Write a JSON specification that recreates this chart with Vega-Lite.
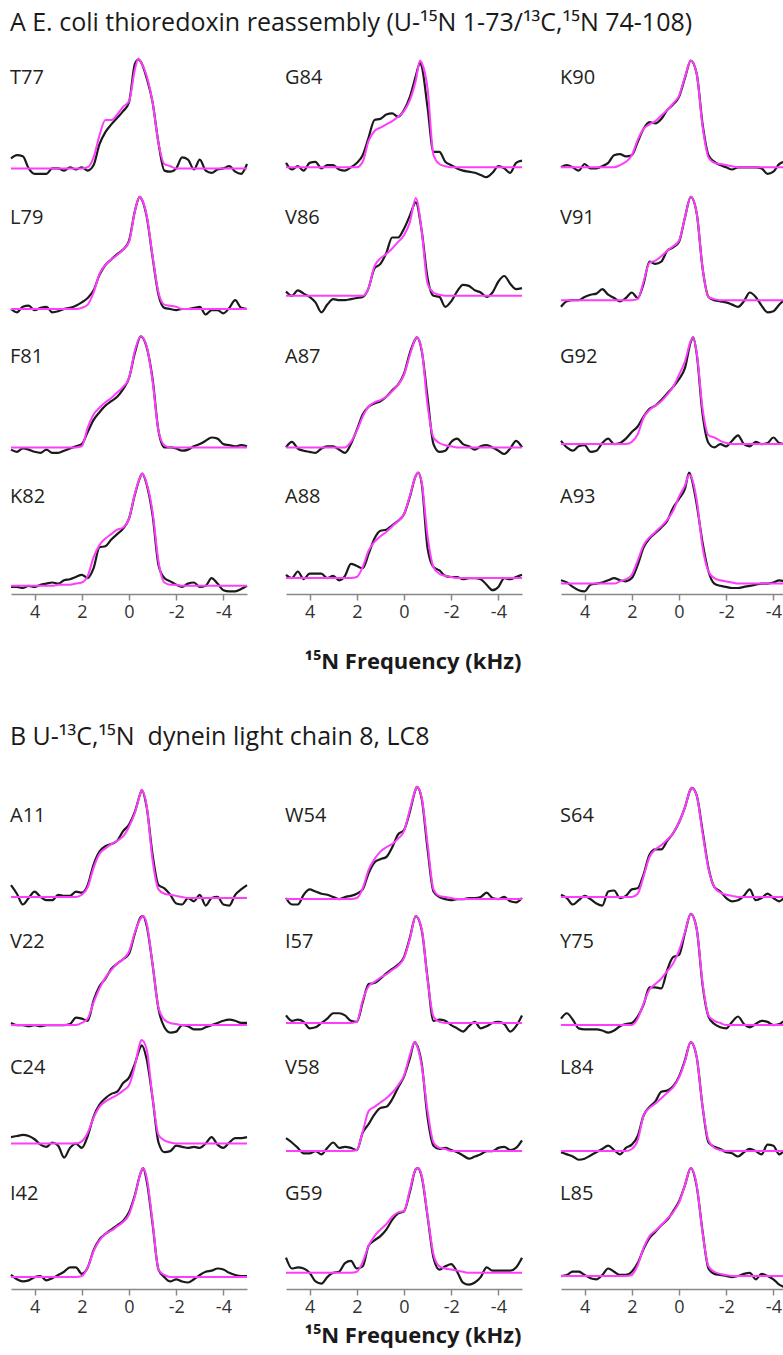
{
"$schema":"https://vega.github.io/schema/vega-lite/v6.json",
"background":"white",
"padding":{"left":9,"top":11,"right":0,"bottom":10},
"spacing":51,
"config":{"view":{"stroke":null},"font":"Open Sans",
"header":{"labels":false,"title":null,"labelFontSize":1,"labelPadding":0,"labelColor":"transparent"},
"headerFacet":{"labels":false,"title":null,"labelFontSize":1,"labelPadding":0,"labelColor":"transparent"},
"axis":{"grid":false,"title":null,"domainColor":"#888888","domainWidth":1.5,"tickColor":"#888888","tickWidth":1.5,"tickSize":6,"labelFontSize":18,"labelColor":"#333333","labelPadding":3,"labelFont":"Open Sans","labelOverlap":false}},
"datasets":{
"A":[
{"p":"T77","x":5,"e":9,"f":0},{"p":"T77","x":4.75,"e":12,"f":0},{"p":"T77","x":4.5,"e":11,"f":0},{"p":"T77","x":4.25,"e":0,"f":0},{"p":"T77","x":4,"e":-5,"f":0},{"p":"T77","x":3.75,"e":-5,"f":0},{"p":"T77","x":3.5,"e":-5,"f":0},{"p":"T77","x":3.25,"e":0,"f":0},{"p":"T77","x":3,"e":0,"f":0},{"p":"T77","x":2.75,"e":-2,"f":0},{"p":"T77","x":2.5,"e":1,"f":0},{"p":"T77","x":2.25,"e":-1,"f":0},{"p":"T77","x":2,"e":1,"f":0},{"p":"T77","x":1.75,"e":-2,"f":1},{"p":"T77","x":1.5,"e":3,"f":10},{"p":"T77","x":1.25,"e":22,"f":30},{"p":"T77","x":1,"e":33,"f":44},{"p":"T77","x":0.75,"e":40,"f":44},{"p":"T77","x":0.5,"e":46,"f":49},{"p":"T77","x":0.25,"e":52,"f":56},{"p":"T77","x":0,"e":60,"f":61},{"p":"T77","x":-0.25,"e":95,"f":90},{"p":"T77","x":-0.4,"e":99,"f":100},{"p":"T77","x":-0.5,"e":97,"f":97},{"p":"T77","x":-0.75,"e":82,"f":84},{"p":"T77","x":-1,"e":60,"f":60},{"p":"T77","x":-1.25,"e":23,"f":23},{"p":"T77","x":-1.5,"e":-2,"f":4},{"p":"T77","x":-1.75,"e":-3,"f":2},{"p":"T77","x":-2,"e":0,"f":0},{"p":"T77","x":-2.25,"e":10,"f":0},{"p":"T77","x":-2.5,"e":8,"f":0},{"p":"T77","x":-2.75,"e":-1,"f":0},{"p":"T77","x":-3,"e":8,"f":0},{"p":"T77","x":-3.25,"e":-2,"f":0},{"p":"T77","x":-3.5,"e":-4,"f":0},{"p":"T77","x":-3.75,"e":-1,"f":0},{"p":"T77","x":-4,"e":0,"f":0},{"p":"T77","x":-4.25,"e":2,"f":0},{"p":"T77","x":-4.5,"e":-3,"f":0},{"p":"T77","x":-4.75,"e":-5,"f":0},{"p":"T77","x":-5,"e":4,"f":0},
{"p":"L79","x":5,"e":-1,"f":-1},{"p":"L79","x":4.75,"e":-4,"f":-1},{"p":"L79","x":4.5,"e":1,"f":-1},{"p":"L79","x":4.25,"e":2,"f":-1},{"p":"L79","x":4,"e":-2,"f":-1},{"p":"L79","x":3.75,"e":0,"f":-1},{"p":"L79","x":3.5,"e":1,"f":-1},{"p":"L79","x":3.25,"e":-4,"f":-1},{"p":"L79","x":3,"e":-3,"f":-1},{"p":"L79","x":2.75,"e":-1,"f":-1},{"p":"L79","x":2.5,"e":0,"f":-1},{"p":"L79","x":2.25,"e":2,"f":-1},{"p":"L79","x":2,"e":5,"f":0},{"p":"L79","x":1.75,"e":9,"f":3},{"p":"L79","x":1.5,"e":16,"f":14},{"p":"L79","x":1.25,"e":30,"f":31},{"p":"L79","x":1,"e":39,"f":39},{"p":"L79","x":0.75,"e":44,"f":44},{"p":"L79","x":0.5,"e":49,"f":48},{"p":"L79","x":0.25,"e":53,"f":53},{"p":"L79","x":0,"e":61,"f":60},{"p":"L79","x":-0.25,"e":88,"f":88},{"p":"L79","x":-0.45,"e":101,"f":101},{"p":"L79","x":-0.5,"e":100,"f":100},{"p":"L79","x":-0.75,"e":83,"f":84},{"p":"L79","x":-1,"e":46,"f":47},{"p":"L79","x":-1.25,"e":12,"f":14},{"p":"L79","x":-1.5,"e":0,"f":3},{"p":"L79","x":-1.75,"e":-1,"f":2},{"p":"L79","x":-2,"e":-2,"f":1},{"p":"L79","x":-2.25,"e":-1,"f":-1},{"p":"L79","x":-2.5,"e":-1,"f":-1},{"p":"L79","x":-2.75,"e":0,"f":-1},{"p":"L79","x":-3,"e":1,"f":-1},{"p":"L79","x":-3.25,"e":-6,"f":-1},{"p":"L79","x":-3.5,"e":-2,"f":-1},{"p":"L79","x":-3.75,"e":-2,"f":-1},{"p":"L79","x":-4,"e":-5,"f":-1},{"p":"L79","x":-4.25,"e":0,"f":-1},{"p":"L79","x":-4.5,"e":7,"f":-1},{"p":"L79","x":-4.75,"e":0,"f":-1},{"p":"L79","x":-5,"e":-1,"f":-1},
{"p":"F81","x":5,"e":-2,"f":0},{"p":"F81","x":4.75,"e":-4,"f":0},{"p":"F81","x":4.5,"e":-1,"f":0},{"p":"F81","x":4.25,"e":-2,"f":0},{"p":"F81","x":4,"e":-4,"f":0},{"p":"F81","x":3.75,"e":-5,"f":0},{"p":"F81","x":3.5,"e":-2,"f":0},{"p":"F81","x":3.25,"e":-5,"f":0},{"p":"F81","x":3,"e":-5,"f":0},{"p":"F81","x":2.75,"e":-3,"f":0},{"p":"F81","x":2.5,"e":-1,"f":0},{"p":"F81","x":2.25,"e":1,"f":0},{"p":"F81","x":2,"e":3,"f":1},{"p":"F81","x":1.75,"e":14,"f":18},{"p":"F81","x":1.5,"e":25,"f":30},{"p":"F81","x":1.25,"e":32,"f":36},{"p":"F81","x":1,"e":38,"f":41},{"p":"F81","x":0.75,"e":42,"f":45},{"p":"F81","x":0.5,"e":46,"f":50},{"p":"F81","x":0.25,"e":53,"f":55},{"p":"F81","x":0,"e":63,"f":63},{"p":"F81","x":-0.25,"e":86,"f":88},{"p":"F81","x":-0.5,"e":101,"f":101},{"p":"F81","x":-0.75,"e":91,"f":92},{"p":"F81","x":-1,"e":62,"f":60},{"p":"F81","x":-1.25,"e":15,"f":15},{"p":"F81","x":-1.5,"e":0,"f":2},{"p":"F81","x":-1.75,"e":0,"f":0},{"p":"F81","x":-2,"e":-1,"f":0},{"p":"F81","x":-2.25,"e":-3,"f":0},{"p":"F81","x":-2.5,"e":-2,"f":0},{"p":"F81","x":-2.75,"e":1,"f":0},{"p":"F81","x":-3,"e":3,"f":0},{"p":"F81","x":-3.25,"e":6,"f":0},{"p":"F81","x":-3.5,"e":9,"f":0},{"p":"F81","x":-3.75,"e":8,"f":0},{"p":"F81","x":-4,"e":3,"f":0},{"p":"F81","x":-4.25,"e":2,"f":0},{"p":"F81","x":-4.5,"e":1,"f":0},{"p":"F81","x":-4.75,"e":2,"f":0},{"p":"F81","x":-5,"e":1,"f":0},
{"p":"K82","x":5,"e":0,"f":1},{"p":"K82","x":4.75,"e":0,"f":1},{"p":"K82","x":4.5,"e":-1,"f":1},{"p":"K82","x":4.25,"e":1,"f":1},{"p":"K82","x":4,"e":0,"f":1},{"p":"K82","x":3.75,"e":2,"f":1},{"p":"K82","x":3.5,"e":3,"f":1},{"p":"K82","x":3.25,"e":4,"f":1},{"p":"K82","x":3,"e":3,"f":2},{"p":"K82","x":2.75,"e":6,"f":2},{"p":"K82","x":2.5,"e":7,"f":2},{"p":"K82","x":2.25,"e":9,"f":3},{"p":"K82","x":2,"e":11,"f":4},{"p":"K82","x":1.75,"e":8,"f":10},{"p":"K82","x":1.5,"e":17,"f":27},{"p":"K82","x":1.25,"e":36,"f":38},{"p":"K82","x":1,"e":37,"f":44},{"p":"K82","x":0.75,"e":43,"f":48},{"p":"K82","x":0.5,"e":48,"f":52},{"p":"K82","x":0.25,"e":53,"f":54},{"p":"K82","x":0,"e":62,"f":62},{"p":"K82","x":-0.25,"e":84,"f":85},{"p":"K82","x":-0.5,"e":101,"f":101},{"p":"K82","x":-0.56,"e":103,"f":103},{"p":"K82","x":-0.75,"e":93,"f":94},{"p":"K82","x":-1,"e":65,"f":68},{"p":"K82","x":-1.25,"e":20,"f":23},{"p":"K82","x":-1.5,"e":8,"f":4},{"p":"K82","x":-1.75,"e":5,"f":2},{"p":"K82","x":-2,"e":2,"f":2},{"p":"K82","x":-2.25,"e":0,"f":1},{"p":"K82","x":-2.5,"e":3,"f":1},{"p":"K82","x":-2.75,"e":4,"f":1},{"p":"K82","x":-3,"e":0,"f":1},{"p":"K82","x":-3.25,"e":1,"f":1},{"p":"K82","x":-3.5,"e":8,"f":1},{"p":"K82","x":-3.75,"e":3,"f":1},{"p":"K82","x":-4,"e":-3,"f":1},{"p":"K82","x":-4.25,"e":-4,"f":1},{"p":"K82","x":-4.5,"e":-4,"f":1},{"p":"K82","x":-4.75,"e":-2,"f":1},{"p":"K82","x":-5,"e":1,"f":1},
{"p":"G84","x":5,"e":5,"f":1},{"p":"G84","x":4.75,"e":-1,"f":1},{"p":"G84","x":4.5,"e":2,"f":1},{"p":"G84","x":4.25,"e":-2,"f":1},{"p":"G84","x":4,"e":5,"f":1},{"p":"G84","x":3.75,"e":6,"f":1},{"p":"G84","x":3.5,"e":0,"f":1},{"p":"G84","x":3.25,"e":3,"f":1},{"p":"G84","x":3,"e":3,"f":1},{"p":"G84","x":2.75,"e":-1,"f":1},{"p":"G84","x":2.5,"e":-2,"f":1},{"p":"G84","x":2.25,"e":1,"f":1},{"p":"G84","x":2,"e":5,"f":1},{"p":"G84","x":1.75,"e":12,"f":6},{"p":"G84","x":1.5,"e":28,"f":25},{"p":"G84","x":1.25,"e":44,"f":34},{"p":"G84","x":1,"e":45,"f":37},{"p":"G84","x":0.75,"e":49,"f":40},{"p":"G84","x":0.5,"e":50,"f":43},{"p":"G84","x":0.25,"e":47,"f":47},{"p":"G84","x":0,"e":53,"f":52},{"p":"G84","x":-0.25,"e":65,"f":62},{"p":"G84","x":-0.5,"e":84,"f":80},{"p":"G84","x":-0.68,"e":96,"f":98},{"p":"G84","x":-0.75,"e":93,"f":96},{"p":"G84","x":-1,"e":55,"f":72},{"p":"G84","x":-1.25,"e":15,"f":12},{"p":"G84","x":-1.5,"e":15,"f":4},{"p":"G84","x":-1.75,"e":6,"f":2},{"p":"G84","x":-2,"e":3,"f":1},{"p":"G84","x":-2.25,"e":0,"f":1},{"p":"G84","x":-2.5,"e":-2,"f":1},{"p":"G84","x":-2.75,"e":-3,"f":1},{"p":"G84","x":-3,"e":-4,"f":1},{"p":"G84","x":-3.25,"e":-6,"f":1},{"p":"G84","x":-3.5,"e":-8,"f":1},{"p":"G84","x":-3.75,"e":-4,"f":1},{"p":"G84","x":-4,"e":2,"f":1},{"p":"G84","x":-4.25,"e":0,"f":1},{"p":"G84","x":-4.5,"e":-4,"f":1},{"p":"G84","x":-4.75,"e":5,"f":1},{"p":"G84","x":-5,"e":7,"f":1},
{"p":"V86","x":5,"e":15,"f":11},{"p":"V86","x":4.75,"e":11,"f":11},{"p":"V86","x":4.5,"e":16,"f":11},{"p":"V86","x":4.25,"e":13,"f":11},{"p":"V86","x":4,"e":10,"f":11},{"p":"V86","x":3.75,"e":5,"f":11},{"p":"V86","x":3.5,"e":-4,"f":11},{"p":"V86","x":3.25,"e":3,"f":11},{"p":"V86","x":3,"e":8,"f":11},{"p":"V86","x":2.75,"e":7,"f":11},{"p":"V86","x":2.5,"e":7,"f":11},{"p":"V86","x":2.25,"e":8,"f":11},{"p":"V86","x":2,"e":9,"f":11},{"p":"V86","x":1.75,"e":10,"f":11},{"p":"V86","x":1.5,"e":18,"f":18},{"p":"V86","x":1.25,"e":36,"f":38},{"p":"V86","x":1,"e":40,"f":45},{"p":"V86","x":0.75,"e":50,"f":49},{"p":"V86","x":0.5,"e":64,"f":54},{"p":"V86","x":0.25,"e":64,"f":60},{"p":"V86","x":0,"e":72,"f":66},{"p":"V86","x":-0.25,"e":84,"f":78},{"p":"V86","x":-0.5,"e":96,"f":100},{"p":"V86","x":-0.75,"e":70,"f":70},{"p":"V86","x":-1,"e":27,"f":22},{"p":"V86","x":-1.25,"e":11,"f":14},{"p":"V86","x":-1.5,"e":10,"f":12},{"p":"V86","x":-1.75,"e":1,"f":11},{"p":"V86","x":-2,"e":6,"f":11},{"p":"V86","x":-2.25,"e":15,"f":11},{"p":"V86","x":-2.5,"e":21,"f":11},{"p":"V86","x":-2.75,"e":20,"f":11},{"p":"V86","x":-3,"e":16,"f":11},{"p":"V86","x":-3.25,"e":14,"f":11},{"p":"V86","x":-3.5,"e":10,"f":11},{"p":"V86","x":-3.75,"e":14,"f":11},{"p":"V86","x":-4,"e":24,"f":11},{"p":"V86","x":-4.25,"e":29,"f":11},{"p":"V86","x":-4.5,"e":22,"f":11},{"p":"V86","x":-4.75,"e":17,"f":11},{"p":"V86","x":-5,"e":18,"f":11},
{"p":"A87","x":5,"e":0,"f":0},{"p":"A87","x":4.75,"e":5,"f":0},{"p":"A87","x":4.5,"e":-1,"f":0},{"p":"A87","x":4.25,"e":-3,"f":0},{"p":"A87","x":4,"e":-4,"f":0},{"p":"A87","x":3.75,"e":-5,"f":0},{"p":"A87","x":3.5,"e":-1,"f":0},{"p":"A87","x":3.25,"e":1,"f":0},{"p":"A87","x":3,"e":1,"f":0},{"p":"A87","x":2.75,"e":-2,"f":0},{"p":"A87","x":2.5,"e":-5,"f":0},{"p":"A87","x":2.25,"e":3,"f":5},{"p":"A87","x":2,"e":16,"f":15},{"p":"A87","x":1.75,"e":30,"f":28},{"p":"A87","x":1.5,"e":37,"f":37},{"p":"A87","x":1.25,"e":40,"f":41},{"p":"A87","x":1,"e":42,"f":43},{"p":"A87","x":0.75,"e":46,"f":46},{"p":"A87","x":0.5,"e":52,"f":51},{"p":"A87","x":0.25,"e":57,"f":57},{"p":"A87","x":0,"e":67,"f":66},{"p":"A87","x":-0.25,"e":86,"f":84},{"p":"A87","x":-0.5,"e":99,"f":99},{"p":"A87","x":-0.55,"e":100,"f":100},{"p":"A87","x":-0.75,"e":88,"f":89},{"p":"A87","x":-1,"e":45,"f":38},{"p":"A87","x":-1.25,"e":3,"f":9},{"p":"A87","x":-1.5,"e":-4,"f":4},{"p":"A87","x":-1.75,"e":-3,"f":2},{"p":"A87","x":-2,"e":5,"f":1},{"p":"A87","x":-2.25,"e":8,"f":0},{"p":"A87","x":-2.5,"e":3,"f":0},{"p":"A87","x":-2.75,"e":1,"f":0},{"p":"A87","x":-3,"e":-2,"f":0},{"p":"A87","x":-3.25,"e":1,"f":0},{"p":"A87","x":-3.5,"e":2,"f":0},{"p":"A87","x":-3.75,"e":0,"f":0},{"p":"A87","x":-4,"e":-3,"f":0},{"p":"A87","x":-4.25,"e":-6,"f":0},{"p":"A87","x":-4.5,"e":-1,"f":0},{"p":"A87","x":-4.75,"e":6,"f":0},{"p":"A87","x":-5,"e":0,"f":0},
{"p":"A88","x":5,"e":11,"f":8},{"p":"A88","x":4.75,"e":8,"f":8},{"p":"A88","x":4.5,"e":14,"f":8},{"p":"A88","x":4.25,"e":7,"f":8},{"p":"A88","x":4,"e":12,"f":8},{"p":"A88","x":3.75,"e":12,"f":8},{"p":"A88","x":3.5,"e":12,"f":8},{"p":"A88","x":3.25,"e":8,"f":8},{"p":"A88","x":3,"e":10,"f":8},{"p":"A88","x":2.75,"e":6,"f":8},{"p":"A88","x":2.5,"e":10,"f":8},{"p":"A88","x":2.25,"e":21,"f":8},{"p":"A88","x":2,"e":19,"f":9},{"p":"A88","x":1.75,"e":17,"f":18},{"p":"A88","x":1.5,"e":30,"f":33},{"p":"A88","x":1.25,"e":44,"f":41},{"p":"A88","x":1,"e":51,"f":46},{"p":"A88","x":0.75,"e":52,"f":50},{"p":"A88","x":0.5,"e":56,"f":55},{"p":"A88","x":0.25,"e":60,"f":60},{"p":"A88","x":0,"e":66,"f":66},{"p":"A88","x":-0.25,"e":82,"f":83},{"p":"A88","x":-0.5,"e":101,"f":101},{"p":"A88","x":-0.6,"e":104,"f":104},{"p":"A88","x":-0.75,"e":94,"f":95},{"p":"A88","x":-1,"e":35,"f":46},{"p":"A88","x":-1.25,"e":18,"f":18},{"p":"A88","x":-1.5,"e":15,"f":12},{"p":"A88","x":-1.75,"e":10,"f":10},{"p":"A88","x":-2,"e":9,"f":9},{"p":"A88","x":-2.25,"e":9,"f":8},{"p":"A88","x":-2.5,"e":7,"f":8},{"p":"A88","x":-2.75,"e":8,"f":8},{"p":"A88","x":-3,"e":8,"f":8},{"p":"A88","x":-3.25,"e":7,"f":8},{"p":"A88","x":-3.5,"e":2,"f":8},{"p":"A88","x":-3.75,"e":-3,"f":8},{"p":"A88","x":-4,"e":0,"f":8},{"p":"A88","x":-4.25,"e":8,"f":8},{"p":"A88","x":-4.5,"e":7,"f":8},{"p":"A88","x":-4.75,"e":9,"f":8},{"p":"A88","x":-5,"e":11,"f":8},
{"p":"K90","x":5,"e":1,"f":1},{"p":"K90","x":4.75,"e":3,"f":1},{"p":"K90","x":4.5,"e":1,"f":1},{"p":"K90","x":4.25,"e":-2,"f":1},{"p":"K90","x":4,"e":4,"f":1},{"p":"K90","x":3.75,"e":0,"f":1},{"p":"K90","x":3.5,"e":0,"f":1},{"p":"K90","x":3.25,"e":2,"f":1},{"p":"K90","x":3,"e":5,"f":1},{"p":"K90","x":2.75,"e":12,"f":1},{"p":"K90","x":2.5,"e":13,"f":3},{"p":"K90","x":2.25,"e":11,"f":6},{"p":"K90","x":2,"e":12,"f":12},{"p":"K90","x":1.75,"e":24,"f":26},{"p":"K90","x":1.5,"e":36,"f":36},{"p":"K90","x":1.25,"e":42,"f":40},{"p":"K90","x":1,"e":41,"f":43},{"p":"K90","x":0.75,"e":45,"f":48},{"p":"K90","x":0.5,"e":53,"f":53},{"p":"K90","x":0.25,"e":58,"f":59},{"p":"K90","x":0,"e":65,"f":66},{"p":"K90","x":-0.25,"e":82,"f":83},{"p":"K90","x":-0.5,"e":98,"f":98},{"p":"K90","x":-0.75,"e":86,"f":86},{"p":"K90","x":-1,"e":40,"f":38},{"p":"K90","x":-1.25,"e":12,"f":10},{"p":"K90","x":-1.5,"e":6,"f":5},{"p":"K90","x":-1.75,"e":3,"f":4},{"p":"K90","x":-2,"e":1,"f":3},{"p":"K90","x":-2.25,"e":-1,"f":2},{"p":"K90","x":-2.5,"e":1,"f":1},{"p":"K90","x":-2.75,"e":1,"f":1},{"p":"K90","x":-3,"e":1,"f":1},{"p":"K90","x":-3.25,"e":1,"f":1},{"p":"K90","x":-3.5,"e":0,"f":1},{"p":"K90","x":-3.75,"e":-5,"f":1},{"p":"K90","x":-4,"e":-3,"f":1},{"p":"K90","x":-4.25,"e":4,"f":1},{"p":"K90","x":-4.5,"e":6,"f":1},{"p":"K90","x":-4.75,"e":5,"f":1},{"p":"K90","x":-5,"e":4,"f":1},
{"p":"V91","x":5,"e":1,"f":7},{"p":"V91","x":4.75,"e":6,"f":7},{"p":"V91","x":4.5,"e":7,"f":7},{"p":"V91","x":4.25,"e":7,"f":7},{"p":"V91","x":4,"e":10,"f":7},{"p":"V91","x":3.75,"e":12,"f":7},{"p":"V91","x":3.5,"e":13,"f":7},{"p":"V91","x":3.25,"e":17,"f":7},{"p":"V91","x":3,"e":12,"f":7},{"p":"V91","x":2.75,"e":9,"f":7},{"p":"V91","x":2.5,"e":6,"f":7},{"p":"V91","x":2.25,"e":9,"f":7},{"p":"V91","x":2,"e":14,"f":7},{"p":"V91","x":1.75,"e":9,"f":8},{"p":"V91","x":1.5,"e":22,"f":24},{"p":"V91","x":1.25,"e":42,"f":41},{"p":"V91","x":1,"e":40,"f":43},{"p":"V91","x":0.75,"e":42,"f":47},{"p":"V91","x":0.5,"e":52,"f":52},{"p":"V91","x":0.25,"e":55,"f":56},{"p":"V91","x":0,"e":60,"f":61},{"p":"V91","x":-0.25,"e":82,"f":82},{"p":"V91","x":-0.5,"e":101,"f":101},{"p":"V91","x":-0.75,"e":86,"f":86},{"p":"V91","x":-1,"e":36,"f":36},{"p":"V91","x":-1.25,"e":10,"f":10},{"p":"V91","x":-1.5,"e":7,"f":8},{"p":"V91","x":-1.75,"e":6,"f":7},{"p":"V91","x":-2,"e":5,"f":7},{"p":"V91","x":-2.25,"e":3,"f":7},{"p":"V91","x":-2.5,"e":1,"f":7},{"p":"V91","x":-2.75,"e":6,"f":7},{"p":"V91","x":-3,"e":14,"f":7},{"p":"V91","x":-3.25,"e":10,"f":7},{"p":"V91","x":-3.5,"e":2,"f":7},{"p":"V91","x":-3.75,"e":-4,"f":7},{"p":"V91","x":-4,"e":-3,"f":7},{"p":"V91","x":-4.25,"e":3,"f":7},{"p":"V91","x":-4.5,"e":7,"f":7},{"p":"V91","x":-4.75,"e":7,"f":7},{"p":"V91","x":-5,"e":7,"f":7},
{"p":"G92","x":5,"e":6,"f":3},{"p":"G92","x":4.75,"e":0,"f":3},{"p":"G92","x":4.5,"e":-3,"f":3},{"p":"G92","x":4.25,"e":1,"f":3},{"p":"G92","x":4,"e":2,"f":3},{"p":"G92","x":3.75,"e":-4,"f":3},{"p":"G92","x":3.5,"e":-3,"f":3},{"p":"G92","x":3.25,"e":4,"f":3},{"p":"G92","x":3,"e":8,"f":3},{"p":"G92","x":2.75,"e":3,"f":3},{"p":"G92","x":2.5,"e":4,"f":3},{"p":"G92","x":2.25,"e":8,"f":3},{"p":"G92","x":2,"e":14,"f":5},{"p":"G92","x":1.75,"e":19,"f":12},{"p":"G92","x":1.5,"e":28,"f":27},{"p":"G92","x":1.25,"e":35,"f":34},{"p":"G92","x":1,"e":38,"f":38},{"p":"G92","x":0.75,"e":43,"f":42},{"p":"G92","x":0.5,"e":49,"f":48},{"p":"G92","x":0.25,"e":55,"f":55},{"p":"G92","x":0,"e":62,"f":66},{"p":"G92","x":-0.25,"e":72,"f":78},{"p":"G92","x":-0.5,"e":96,"f":97},{"p":"G92","x":-0.6,"e":100,"f":100},{"p":"G92","x":-0.75,"e":85,"f":86},{"p":"G92","x":-1,"e":30,"f":35},{"p":"G92","x":-1.25,"e":4,"f":11},{"p":"G92","x":-1.5,"e":0,"f":9},{"p":"G92","x":-1.75,"e":3,"f":6},{"p":"G92","x":-2,"e":1,"f":4},{"p":"G92","x":-2.25,"e":6,"f":3},{"p":"G92","x":-2.5,"e":11,"f":3},{"p":"G92","x":-2.75,"e":3,"f":3},{"p":"G92","x":-3,"e":1,"f":3},{"p":"G92","x":-3.25,"e":5,"f":3},{"p":"G92","x":-3.5,"e":3,"f":3},{"p":"G92","x":-3.75,"e":4,"f":3},{"p":"G92","x":-4,"e":9,"f":3},{"p":"G92","x":-4.25,"e":4,"f":3},{"p":"G92","x":-4.5,"e":3,"f":3},{"p":"G92","x":-4.75,"e":3,"f":3},{"p":"G92","x":-5,"e":3,"f":3},
{"p":"A93","x":5,"e":6,"f":3},{"p":"A93","x":4.75,"e":4,"f":3},{"p":"A93","x":4.5,"e":0,"f":3},{"p":"A93","x":4.25,"e":-3,"f":3},{"p":"A93","x":4,"e":-4,"f":3},{"p":"A93","x":3.75,"e":2,"f":3},{"p":"A93","x":3.5,"e":3,"f":3},{"p":"A93","x":3.25,"e":4,"f":3},{"p":"A93","x":3,"e":6,"f":3},{"p":"A93","x":2.75,"e":8,"f":3},{"p":"A93","x":2.5,"e":6,"f":5},{"p":"A93","x":2.25,"e":5,"f":7},{"p":"A93","x":2,"e":8,"f":11},{"p":"A93","x":1.75,"e":20,"f":24},{"p":"A93","x":1.5,"e":36,"f":38},{"p":"A93","x":1.25,"e":44,"f":45},{"p":"A93","x":1,"e":49,"f":50},{"p":"A93","x":0.75,"e":54,"f":55},{"p":"A93","x":0.5,"e":60,"f":61},{"p":"A93","x":0.25,"e":72,"f":69},{"p":"A93","x":0,"e":80,"f":82},{"p":"A93","x":-0.25,"e":89,"f":92},{"p":"A93","x":-0.43,"e":104,"f":102},{"p":"A93","x":-0.5,"e":101,"f":101},{"p":"A93","x":-0.75,"e":75,"f":79},{"p":"A93","x":-1,"e":40,"f":36},{"p":"A93","x":-1.25,"e":14,"f":14},{"p":"A93","x":-1.5,"e":3,"f":8},{"p":"A93","x":-1.75,"e":1,"f":6},{"p":"A93","x":-2,"e":0,"f":5},{"p":"A93","x":-2.25,"e":-1,"f":4},{"p":"A93","x":-2.5,"e":-1,"f":3},{"p":"A93","x":-2.75,"e":0,"f":3},{"p":"A93","x":-3,"e":1,"f":3},{"p":"A93","x":-3.25,"e":2,"f":3},{"p":"A93","x":-3.5,"e":3,"f":3},{"p":"A93","x":-3.75,"e":3,"f":3},{"p":"A93","x":-4,"e":4,"f":3},{"p":"A93","x":-4.25,"e":6,"f":3},{"p":"A93","x":-4.5,"e":5,"f":3},{"p":"A93","x":-4.75,"e":4,"f":3},{"p":"A93","x":-5,"e":3,"f":3}
],
"B":[
{"p":"A11","x":5,"e":12,"f":1},{"p":"A11","x":4.75,"e":4,"f":1},{"p":"A11","x":4.5,"e":-6,"f":1},{"p":"A11","x":4.25,"e":0,"f":1},{"p":"A11","x":4,"e":6,"f":1},{"p":"A11","x":3.75,"e":1,"f":1},{"p":"A11","x":3.5,"e":-2,"f":1},{"p":"A11","x":3.25,"e":-2,"f":1},{"p":"A11","x":3,"e":3,"f":1},{"p":"A11","x":2.75,"e":2,"f":1},{"p":"A11","x":2.5,"e":2,"f":1},{"p":"A11","x":2.25,"e":6,"f":1},{"p":"A11","x":2,"e":5,"f":3},{"p":"A11","x":1.75,"e":12,"f":10},{"p":"A11","x":1.5,"e":31,"f":28},{"p":"A11","x":1.25,"e":43,"f":41},{"p":"A11","x":1,"e":48,"f":46},{"p":"A11","x":0.75,"e":50,"f":50},{"p":"A11","x":0.5,"e":53,"f":53},{"p":"A11","x":0.25,"e":62,"f":57},{"p":"A11","x":0,"e":68,"f":66},{"p":"A11","x":-0.25,"e":80,"f":79},{"p":"A11","x":-0.5,"e":98,"f":98},{"p":"A11","x":-0.54,"e":100,"f":100},{"p":"A11","x":-0.75,"e":84,"f":85},{"p":"A11","x":-1,"e":40,"f":35},{"p":"A11","x":-1.25,"e":12,"f":8},{"p":"A11","x":-1.5,"e":9,"f":4},{"p":"A11","x":-1.75,"e":3,"f":3},{"p":"A11","x":-2,"e":-5,"f":2},{"p":"A11","x":-2.25,"e":-6,"f":1},{"p":"A11","x":-2.5,"e":0,"f":0},{"p":"A11","x":-2.75,"e":-3,"f":0},{"p":"A11","x":-3,"e":3,"f":0},{"p":"A11","x":-3.25,"e":-7,"f":0},{"p":"A11","x":-3.5,"e":0,"f":0},{"p":"A11","x":-3.75,"e":1,"f":0},{"p":"A11","x":-4,"e":-6,"f":0},{"p":"A11","x":-4.25,"e":-7,"f":0},{"p":"A11","x":-4.5,"e":3,"f":0},{"p":"A11","x":-4.75,"e":8,"f":0},{"p":"A11","x":-5,"e":12,"f":0},
{"p":"V22","x":5,"e":1,"f":-1},{"p":"V22","x":4.75,"e":-1,"f":-1},{"p":"V22","x":4.5,"e":-1,"f":-1},{"p":"V22","x":4.25,"e":-2,"f":-1},{"p":"V22","x":4,"e":-1,"f":-1},{"p":"V22","x":3.75,"e":-2,"f":-1},{"p":"V22","x":3.5,"e":-1,"f":-1},{"p":"V22","x":3.25,"e":-1,"f":-1},{"p":"V22","x":3,"e":-1,"f":-1},{"p":"V22","x":2.75,"e":-1,"f":-1},{"p":"V22","x":2.5,"e":0,"f":-1},{"p":"V22","x":2.25,"e":6,"f":-1},{"p":"V22","x":2,"e":5,"f":1},{"p":"V22","x":1.75,"e":3,"f":5},{"p":"V22","x":1.5,"e":22,"f":20},{"p":"V22","x":1.25,"e":35,"f":33},{"p":"V22","x":1,"e":42,"f":43},{"p":"V22","x":0.75,"e":51,"f":50},{"p":"V22","x":0.5,"e":56,"f":56},{"p":"V22","x":0.25,"e":60,"f":60},{"p":"V22","x":0,"e":65,"f":67},{"p":"V22","x":-0.25,"e":84,"f":85},{"p":"V22","x":-0.5,"e":99,"f":98},{"p":"V22","x":-0.6,"e":100,"f":100},{"p":"V22","x":-0.75,"e":91,"f":93},{"p":"V22","x":-1,"e":55,"f":55},{"p":"V22","x":-1.25,"e":14,"f":15},{"p":"V22","x":-1.5,"e":-3,"f":4},{"p":"V22","x":-1.75,"e":-8,"f":1},{"p":"V22","x":-2,"e":-7,"f":0},{"p":"V22","x":-2.25,"e":-1,"f":-1},{"p":"V22","x":-2.5,"e":-2,"f":-1},{"p":"V22","x":-2.75,"e":-5,"f":-1},{"p":"V22","x":-3,"e":-5,"f":-1},{"p":"V22","x":-3.25,"e":-3,"f":-1},{"p":"V22","x":-3.5,"e":-1,"f":-1},{"p":"V22","x":-3.75,"e":1,"f":-1},{"p":"V22","x":-4,"e":3,"f":-1},{"p":"V22","x":-4.25,"e":4,"f":-1},{"p":"V22","x":-4.5,"e":3,"f":-1},{"p":"V22","x":-4.75,"e":1,"f":-1},{"p":"V22","x":-5,"e":1,"f":-1},
{"p":"C24","x":5,"e":12,"f":6},{"p":"C24","x":4.75,"e":13,"f":6},{"p":"C24","x":4.5,"e":14,"f":6},{"p":"C24","x":4.25,"e":13,"f":6},{"p":"C24","x":4,"e":10,"f":6},{"p":"C24","x":3.75,"e":5,"f":6},{"p":"C24","x":3.5,"e":3,"f":6},{"p":"C24","x":3.25,"e":7,"f":6},{"p":"C24","x":3,"e":4,"f":6},{"p":"C24","x":2.75,"e":-7,"f":6},{"p":"C24","x":2.5,"e":2,"f":6},{"p":"C24","x":2.25,"e":6,"f":6},{"p":"C24","x":2,"e":2,"f":8},{"p":"C24","x":1.75,"e":13,"f":16},{"p":"C24","x":1.5,"e":31,"f":30},{"p":"C24","x":1.25,"e":42,"f":40},{"p":"C24","x":1,"e":48,"f":45},{"p":"C24","x":0.75,"e":52,"f":48},{"p":"C24","x":0.5,"e":54,"f":51},{"p":"C24","x":0.25,"e":62,"f":55},{"p":"C24","x":0,"e":67,"f":60},{"p":"C24","x":-0.25,"e":80,"f":78},{"p":"C24","x":-0.5,"e":96,"f":101},{"p":"C24","x":-0.54,"e":97,"f":102},{"p":"C24","x":-0.75,"e":84,"f":93},{"p":"C24","x":-1,"e":48,"f":48},{"p":"C24","x":-1.25,"e":7,"f":14},{"p":"C24","x":-1.5,"e":-2,"f":9},{"p":"C24","x":-1.75,"e":-1,"f":7},{"p":"C24","x":-2,"e":4,"f":6},{"p":"C24","x":-2.25,"e":3,"f":6},{"p":"C24","x":-2.5,"e":2,"f":6},{"p":"C24","x":-2.75,"e":3,"f":6},{"p":"C24","x":-3,"e":2,"f":6},{"p":"C24","x":-3.25,"e":6,"f":6},{"p":"C24","x":-3.5,"e":12,"f":6},{"p":"C24","x":-3.75,"e":5,"f":6},{"p":"C24","x":-4,"e":2,"f":6},{"p":"C24","x":-4.25,"e":7,"f":6},{"p":"C24","x":-4.5,"e":11,"f":6},{"p":"C24","x":-4.75,"e":11,"f":6},{"p":"C24","x":-5,"e":12,"f":6},
{"p":"I42","x":5,"e":1,"f":-1},{"p":"I42","x":4.75,"e":-3,"f":-1},{"p":"I42","x":4.5,"e":-5,"f":-1},{"p":"I42","x":4.25,"e":-4,"f":-1},{"p":"I42","x":4,"e":-1,"f":-1},{"p":"I42","x":3.75,"e":0,"f":-1},{"p":"I42","x":3.5,"e":-4,"f":-1},{"p":"I42","x":3.25,"e":-2,"f":-1},{"p":"I42","x":3,"e":1,"f":-1},{"p":"I42","x":2.75,"e":4,"f":-1},{"p":"I42","x":2.5,"e":8,"f":-1},{"p":"I42","x":2.25,"e":8,"f":-1},{"p":"I42","x":2,"e":2,"f":0},{"p":"I42","x":1.75,"e":8,"f":8},{"p":"I42","x":1.5,"e":24,"f":23},{"p":"I42","x":1.25,"e":34,"f":33},{"p":"I42","x":1,"e":39,"f":39},{"p":"I42","x":0.75,"e":43,"f":42},{"p":"I42","x":0.5,"e":47,"f":46},{"p":"I42","x":0.25,"e":51,"f":50},{"p":"I42","x":0,"e":59,"f":57},{"p":"I42","x":-0.25,"e":75,"f":74},{"p":"I42","x":-0.5,"e":96,"f":96},{"p":"I42","x":-0.6,"e":100,"f":100},{"p":"I42","x":-0.75,"e":88,"f":91},{"p":"I42","x":-1,"e":48,"f":50},{"p":"I42","x":-1.25,"e":6,"f":6},{"p":"I42","x":-1.5,"e":-1,"f":1},{"p":"I42","x":-1.75,"e":-5,"f":-1},{"p":"I42","x":-2,"e":-3,"f":-1},{"p":"I42","x":-2.25,"e":-5,"f":-1},{"p":"I42","x":-2.5,"e":-6,"f":-1},{"p":"I42","x":-2.75,"e":-3,"f":-1},{"p":"I42","x":-3,"e":1,"f":-1},{"p":"I42","x":-3.25,"e":4,"f":-1},{"p":"I42","x":-3.5,"e":5,"f":-1},{"p":"I42","x":-3.75,"e":7,"f":-1},{"p":"I42","x":-4,"e":6,"f":-1},{"p":"I42","x":-4.25,"e":3,"f":-1},{"p":"I42","x":-4.5,"e":1,"f":-1},{"p":"I42","x":-4.75,"e":0,"f":-1},{"p":"I42","x":-5,"e":0,"f":-1},
{"p":"W54","x":5,"e":0,"f":-1},{"p":"W54","x":4.75,"e":-6,"f":-1},{"p":"W54","x":4.5,"e":-6,"f":-1},{"p":"W54","x":4.25,"e":3,"f":-1},{"p":"W54","x":4,"e":8,"f":-1},{"p":"W54","x":3.75,"e":6,"f":-1},{"p":"W54","x":3.5,"e":4,"f":-1},{"p":"W54","x":3.25,"e":3,"f":-1},{"p":"W54","x":3,"e":1,"f":-1},{"p":"W54","x":2.75,"e":-1,"f":-1},{"p":"W54","x":2.5,"e":1,"f":-1},{"p":"W54","x":2.25,"e":2,"f":-1},{"p":"W54","x":2,"e":4,"f":0},{"p":"W54","x":1.75,"e":8,"f":9},{"p":"W54","x":1.5,"e":23,"f":26},{"p":"W54","x":1.25,"e":33,"f":36},{"p":"W54","x":1,"e":36,"f":43},{"p":"W54","x":0.75,"e":38,"f":47},{"p":"W54","x":0.5,"e":47,"f":50},{"p":"W54","x":0.25,"e":59,"f":55},{"p":"W54","x":0,"e":63,"f":62},{"p":"W54","x":-0.25,"e":80,"f":82},{"p":"W54","x":-0.5,"e":101,"f":101},{"p":"W54","x":-0.55,"e":103,"f":103},{"p":"W54","x":-0.75,"e":92,"f":93},{"p":"W54","x":-1,"e":45,"f":50},{"p":"W54","x":-1.25,"e":6,"f":8},{"p":"W54","x":-1.5,"e":1,"f":2},{"p":"W54","x":-1.75,"e":-1,"f":1},{"p":"W54","x":-2,"e":-2,"f":0},{"p":"W54","x":-2.25,"e":-1,"f":-1},{"p":"W54","x":-2.5,"e":-1,"f":-1},{"p":"W54","x":-2.75,"e":0,"f":-1},{"p":"W54","x":-3,"e":0,"f":-1},{"p":"W54","x":-3.25,"e":1,"f":-1},{"p":"W54","x":-3.5,"e":5,"f":-1},{"p":"W54","x":-3.75,"e":0,"f":-1},{"p":"W54","x":-4,"e":-1,"f":-1},{"p":"W54","x":-4.25,"e":1,"f":-1},{"p":"W54","x":-4.5,"e":-3,"f":-1},{"p":"W54","x":-4.75,"e":-4,"f":-1},{"p":"W54","x":-5,"e":0,"f":-1},
{"p":"I57","x":5,"e":8,"f":1},{"p":"I57","x":4.75,"e":3,"f":1},{"p":"I57","x":4.5,"e":4,"f":1},{"p":"I57","x":4.25,"e":2,"f":1},{"p":"I57","x":4,"e":-4,"f":1},{"p":"I57","x":3.75,"e":-3,"f":1},{"p":"I57","x":3.5,"e":1,"f":1},{"p":"I57","x":3.25,"e":5,"f":1},{"p":"I57","x":3,"e":10,"f":1},{"p":"I57","x":2.75,"e":10,"f":1},{"p":"I57","x":2.5,"e":8,"f":1},{"p":"I57","x":2.25,"e":3,"f":1},{"p":"I57","x":2,"e":2,"f":2},{"p":"I57","x":1.75,"e":20,"f":22},{"p":"I57","x":1.5,"e":37,"f":35},{"p":"I57","x":1.25,"e":38,"f":39},{"p":"I57","x":1,"e":42,"f":43},{"p":"I57","x":0.75,"e":47,"f":46},{"p":"I57","x":0.5,"e":51,"f":50},{"p":"I57","x":0.25,"e":55,"f":54},{"p":"I57","x":0,"e":62,"f":61},{"p":"I57","x":-0.25,"e":80,"f":79},{"p":"I57","x":-0.5,"e":100,"f":100},{"p":"I57","x":-0.75,"e":87,"f":88},{"p":"I57","x":-1,"e":42,"f":41},{"p":"I57","x":-1.25,"e":3,"f":7},{"p":"I57","x":-1.5,"e":4,"f":2},{"p":"I57","x":-1.75,"e":3,"f":1},{"p":"I57","x":-2,"e":-1,"f":1},{"p":"I57","x":-2.25,"e":-4,"f":1},{"p":"I57","x":-2.5,"e":-7,"f":1},{"p":"I57","x":-2.75,"e":-2,"f":1},{"p":"I57","x":-3,"e":2,"f":1},{"p":"I57","x":-3.25,"e":-4,"f":1},{"p":"I57","x":-3.5,"e":-2,"f":1},{"p":"I57","x":-3.75,"e":1,"f":1},{"p":"I57","x":-4,"e":2,"f":1},{"p":"I57","x":-4.25,"e":0,"f":1},{"p":"I57","x":-4.5,"e":-7,"f":1},{"p":"I57","x":-4.75,"e":-2,"f":1},{"p":"I57","x":-5,"e":8,"f":1},
{"p":"V58","x":5,"e":11,"f":-1},{"p":"V58","x":4.75,"e":7,"f":-1},{"p":"V58","x":4.5,"e":2,"f":-1},{"p":"V58","x":4.25,"e":-3,"f":-1},{"p":"V58","x":4,"e":-3,"f":-1},{"p":"V58","x":3.75,"e":-1,"f":-1},{"p":"V58","x":3.5,"e":-4,"f":-1},{"p":"V58","x":3.25,"e":2,"f":-1},{"p":"V58","x":3,"e":7,"f":-1},{"p":"V58","x":2.75,"e":2,"f":-1},{"p":"V58","x":2.5,"e":3,"f":-1},{"p":"V58","x":2.25,"e":2,"f":-1},{"p":"V58","x":2,"e":0,"f":0},{"p":"V58","x":1.75,"e":16,"f":17},{"p":"V58","x":1.5,"e":24,"f":36},{"p":"V58","x":1.25,"e":33,"f":40},{"p":"V58","x":1,"e":39,"f":44},{"p":"V58","x":0.75,"e":40,"f":48},{"p":"V58","x":0.5,"e":47,"f":53},{"p":"V58","x":0.25,"e":58,"f":60},{"p":"V58","x":0,"e":68,"f":69},{"p":"V58","x":-0.25,"e":85,"f":88},{"p":"V58","x":-0.45,"e":100,"f":100},{"p":"V58","x":-0.5,"e":99,"f":99},{"p":"V58","x":-0.75,"e":80,"f":78},{"p":"V58","x":-1,"e":30,"f":36},{"p":"V58","x":-1.25,"e":4,"f":7},{"p":"V58","x":-1.5,"e":1,"f":2},{"p":"V58","x":-1.75,"e":2,"f":1},{"p":"V58","x":-2,"e":0,"f":-1},{"p":"V58","x":-2.25,"e":-2,"f":-1},{"p":"V58","x":-2.5,"e":-5,"f":-1},{"p":"V58","x":-2.75,"e":-8,"f":-1},{"p":"V58","x":-3,"e":-6,"f":-1},{"p":"V58","x":-3.25,"e":-4,"f":-1},{"p":"V58","x":-3.5,"e":-1,"f":-1},{"p":"V58","x":-3.75,"e":-1,"f":-1},{"p":"V58","x":-4,"e":2,"f":-1},{"p":"V58","x":-4.25,"e":3,"f":-1},{"p":"V58","x":-4.5,"e":0,"f":-1},{"p":"V58","x":-4.75,"e":2,"f":-1},{"p":"V58","x":-5,"e":9,"f":-1},
{"p":"G59","x":5,"e":17,"f":3},{"p":"G59","x":4.75,"e":7,"f":3},{"p":"G59","x":4.5,"e":8,"f":3},{"p":"G59","x":4.25,"e":7,"f":3},{"p":"G59","x":4,"e":3,"f":3},{"p":"G59","x":3.75,"e":-5,"f":3},{"p":"G59","x":3.5,"e":-7,"f":3},{"p":"G59","x":3.25,"e":-1,"f":3},{"p":"G59","x":3,"e":3,"f":3},{"p":"G59","x":2.75,"e":4,"f":3},{"p":"G59","x":2.5,"e":12,"f":3},{"p":"G59","x":2.25,"e":14,"f":3},{"p":"G59","x":2,"e":7,"f":4},{"p":"G59","x":1.75,"e":9,"f":13},{"p":"G59","x":1.5,"e":28,"f":28},{"p":"G59","x":1.25,"e":33,"f":37},{"p":"G59","x":1,"e":37,"f":43},{"p":"G59","x":0.75,"e":43,"f":48},{"p":"G59","x":0.5,"e":52,"f":55},{"p":"G59","x":0.25,"e":58,"f":59},{"p":"G59","x":0,"e":60,"f":60},{"p":"G59","x":-0.25,"e":78,"f":80},{"p":"G59","x":-0.5,"e":99,"f":99},{"p":"G59","x":-0.59,"e":100,"f":100},{"p":"G59","x":-0.75,"e":92,"f":93},{"p":"G59","x":-1,"e":55,"f":56},{"p":"G59","x":-1.25,"e":17,"f":20},{"p":"G59","x":-1.5,"e":6,"f":9},{"p":"G59","x":-1.75,"e":9,"f":7},{"p":"G59","x":-2,"e":11,"f":6},{"p":"G59","x":-2.25,"e":4,"f":5},{"p":"G59","x":-2.5,"e":-6,"f":4},{"p":"G59","x":-2.75,"e":-8,"f":3},{"p":"G59","x":-3,"e":-6,"f":3},{"p":"G59","x":-3.25,"e":-1,"f":3},{"p":"G59","x":-3.5,"e":8,"f":3},{"p":"G59","x":-3.75,"e":5,"f":3},{"p":"G59","x":-4,"e":5,"f":3},{"p":"G59","x":-4.25,"e":5,"f":3},{"p":"G59","x":-4.5,"e":5,"f":3},{"p":"G59","x":-4.75,"e":8,"f":3},{"p":"G59","x":-5,"e":17,"f":3},
{"p":"S64","x":5,"e":3,"f":1},{"p":"S64","x":4.75,"e":0,"f":1},{"p":"S64","x":4.5,"e":-6,"f":1},{"p":"S64","x":4.25,"e":-2,"f":1},{"p":"S64","x":4,"e":2,"f":1},{"p":"S64","x":3.75,"e":-1,"f":1},{"p":"S64","x":3.5,"e":-5,"f":1},{"p":"S64","x":3.25,"e":-7,"f":1},{"p":"S64","x":3,"e":6,"f":1},{"p":"S64","x":2.75,"e":7,"f":1},{"p":"S64","x":2.5,"e":0,"f":1},{"p":"S64","x":2.25,"e":2,"f":1},{"p":"S64","x":2,"e":8,"f":1},{"p":"S64","x":1.75,"e":9,"f":4},{"p":"S64","x":1.5,"e":22,"f":20},{"p":"S64","x":1.25,"e":40,"f":38},{"p":"S64","x":1,"e":45,"f":45},{"p":"S64","x":0.75,"e":45,"f":49},{"p":"S64","x":0.5,"e":53,"f":54},{"p":"S64","x":0.25,"e":60,"f":60},{"p":"S64","x":0,"e":70,"f":70},{"p":"S64","x":-0.25,"e":84,"f":84},{"p":"S64","x":-0.5,"e":101,"f":101},{"p":"S64","x":-0.55,"e":102,"f":102},{"p":"S64","x":-0.75,"e":95,"f":95},{"p":"S64","x":-1,"e":62,"f":60},{"p":"S64","x":-1.25,"e":28,"f":27},{"p":"S64","x":-1.5,"e":10,"f":10},{"p":"S64","x":-1.75,"e":6,"f":5},{"p":"S64","x":-2,"e":0,"f":3},{"p":"S64","x":-2.25,"e":-3,"f":2},{"p":"S64","x":-2.5,"e":-2,"f":1},{"p":"S64","x":-2.75,"e":2,"f":1},{"p":"S64","x":-3,"e":8,"f":1},{"p":"S64","x":-3.25,"e":-2,"f":1},{"p":"S64","x":-3.5,"e":0,"f":1},{"p":"S64","x":-3.75,"e":4,"f":1},{"p":"S64","x":-4,"e":0,"f":1},{"p":"S64","x":-4.25,"e":-3,"f":1},{"p":"S64","x":-4.5,"e":1,"f":1},{"p":"S64","x":-4.75,"e":3,"f":1},{"p":"S64","x":-5,"e":2,"f":1},
{"p":"Y75","x":5,"e":5,"f":-1},{"p":"Y75","x":4.75,"e":10,"f":-1},{"p":"Y75","x":4.5,"e":4,"f":-1},{"p":"Y75","x":4.25,"e":-4,"f":-1},{"p":"Y75","x":4,"e":-5,"f":-1},{"p":"Y75","x":3.75,"e":-5,"f":-1},{"p":"Y75","x":3.5,"e":-5,"f":-1},{"p":"Y75","x":3.25,"e":-6,"f":-1},{"p":"Y75","x":3,"e":-8,"f":-1},{"p":"Y75","x":2.75,"e":-6,"f":-1},{"p":"Y75","x":2.5,"e":-2,"f":-1},{"p":"Y75","x":2.25,"e":0,"f":-1},{"p":"Y75","x":2,"e":1,"f":-1},{"p":"Y75","x":1.75,"e":7,"f":5},{"p":"Y75","x":1.5,"e":18,"f":19},{"p":"Y75","x":1.25,"e":34,"f":32},{"p":"Y75","x":1,"e":34,"f":37},{"p":"Y75","x":0.75,"e":33,"f":42},{"p":"Y75","x":0.5,"e":50,"f":49},{"p":"Y75","x":0.25,"e":62,"f":56},{"p":"Y75","x":0,"e":64,"f":68},{"p":"Y75","x":-0.25,"e":84,"f":85},{"p":"Y75","x":-0.5,"e":102,"f":102},{"p":"Y75","x":-0.75,"e":88,"f":88},{"p":"Y75","x":-1,"e":36,"f":38},{"p":"Y75","x":-1.25,"e":7,"f":8},{"p":"Y75","x":-1.5,"e":0,"f":3},{"p":"Y75","x":-1.75,"e":-3,"f":1},{"p":"Y75","x":-2,"e":-4,"f":-1},{"p":"Y75","x":-2.25,"e":2,"f":-1},{"p":"Y75","x":-2.5,"e":7,"f":-1},{"p":"Y75","x":-2.75,"e":0,"f":-1},{"p":"Y75","x":-3,"e":-3,"f":-1},{"p":"Y75","x":-3.25,"e":0,"f":-1},{"p":"Y75","x":-3.5,"e":3,"f":-1},{"p":"Y75","x":-3.75,"e":2,"f":-1},{"p":"Y75","x":-4,"e":-1,"f":-1},{"p":"Y75","x":-4.25,"e":0,"f":-1},{"p":"Y75","x":-4.5,"e":3,"f":-1},{"p":"Y75","x":-4.75,"e":3,"f":-1},{"p":"Y75","x":-5,"e":3,"f":-1},
{"p":"L84","x":5,"e":-2,"f":-1},{"p":"L84","x":4.75,"e":-4,"f":-1},{"p":"L84","x":4.5,"e":-6,"f":-1},{"p":"L84","x":4.25,"e":-9,"f":-1},{"p":"L84","x":4,"e":-8,"f":-1},{"p":"L84","x":3.75,"e":-5,"f":-1},{"p":"L84","x":3.5,"e":-2,"f":-1},{"p":"L84","x":3.25,"e":1,"f":-1},{"p":"L84","x":3,"e":4,"f":-1},{"p":"L84","x":2.75,"e":0,"f":-1},{"p":"L84","x":2.5,"e":-4,"f":-1},{"p":"L84","x":2.25,"e":2,"f":-1},{"p":"L84","x":2,"e":5,"f":1},{"p":"L84","x":1.75,"e":13,"f":9},{"p":"L84","x":1.5,"e":32,"f":32},{"p":"L84","x":1.25,"e":40,"f":39},{"p":"L84","x":1,"e":45,"f":43},{"p":"L84","x":0.75,"e":54,"f":48},{"p":"L84","x":0.5,"e":55,"f":53},{"p":"L84","x":0.25,"e":59,"f":58},{"p":"L84","x":0,"e":68,"f":67},{"p":"L84","x":-0.25,"e":83,"f":82},{"p":"L84","x":-0.5,"e":100,"f":100},{"p":"L84","x":-0.75,"e":86,"f":86},{"p":"L84","x":-1,"e":40,"f":40},{"p":"L84","x":-1.25,"e":7,"f":9},{"p":"L84","x":-1.5,"e":3,"f":2},{"p":"L84","x":-1.75,"e":1,"f":0},{"p":"L84","x":-2,"e":-2,"f":-1},{"p":"L84","x":-2.25,"e":-3,"f":-1},{"p":"L84","x":-2.5,"e":-6,"f":-1},{"p":"L84","x":-2.75,"e":-2,"f":-1},{"p":"L84","x":-3,"e":1,"f":-1},{"p":"L84","x":-3.25,"e":-1,"f":-1},{"p":"L84","x":-3.5,"e":-4,"f":-1},{"p":"L84","x":-3.75,"e":5,"f":-1},{"p":"L84","x":-4,"e":4,"f":-1},{"p":"L84","x":-4.25,"e":-4,"f":-1},{"p":"L84","x":-4.5,"e":0,"f":-1},{"p":"L84","x":-4.75,"e":1,"f":-1},{"p":"L84","x":-5,"e":1,"f":-1},
{"p":"L85","x":5,"e":0,"f":0},{"p":"L85","x":4.75,"e":1,"f":0},{"p":"L85","x":4.5,"e":4,"f":0},{"p":"L85","x":4.25,"e":4,"f":0},{"p":"L85","x":4,"e":1,"f":0},{"p":"L85","x":3.75,"e":-2,"f":0},{"p":"L85","x":3.5,"e":-3,"f":0},{"p":"L85","x":3.25,"e":1,"f":0},{"p":"L85","x":3,"e":7,"f":0},{"p":"L85","x":2.75,"e":4,"f":0},{"p":"L85","x":2.5,"e":1,"f":0},{"p":"L85","x":2.25,"e":1,"f":0},{"p":"L85","x":2,"e":4,"f":1},{"p":"L85","x":1.75,"e":12,"f":10},{"p":"L85","x":1.5,"e":25,"f":26},{"p":"L85","x":1.25,"e":35,"f":37},{"p":"L85","x":1,"e":41,"f":42},{"p":"L85","x":0.75,"e":47,"f":47},{"p":"L85","x":0.5,"e":52,"f":53},{"p":"L85","x":0.25,"e":60,"f":59},{"p":"L85","x":0,"e":69,"f":68},{"p":"L85","x":-0.25,"e":84,"f":84},{"p":"L85","x":-0.5,"e":100,"f":100},{"p":"L85","x":-0.75,"e":83,"f":84},{"p":"L85","x":-1,"e":41,"f":40},{"p":"L85","x":-1.25,"e":7,"f":9},{"p":"L85","x":-1.5,"e":2,"f":4},{"p":"L85","x":-1.75,"e":1,"f":2},{"p":"L85","x":-2,"e":0,"f":1},{"p":"L85","x":-2.25,"e":-1,"f":0},{"p":"L85","x":-2.5,"e":0,"f":0},{"p":"L85","x":-2.75,"e":2,"f":0},{"p":"L85","x":-3,"e":3,"f":0},{"p":"L85","x":-3.25,"e":-3,"f":0},{"p":"L85","x":-3.5,"e":2,"f":0},{"p":"L85","x":-3.75,"e":0,"f":0},{"p":"L85","x":-4,"e":-3,"f":0},{"p":"L85","x":-4.25,"e":-8,"f":0},{"p":"L85","x":-4.5,"e":-10,"f":0},{"p":"L85","x":-4.75,"e":-8,"f":0},{"p":"L85","x":-5,"e":-3,"f":0}
]},
"vconcat":[
{"title":{"text":"A E. coli thioredoxin reassembly (U-¹⁵N 1-73/¹³C,¹⁵N 74-108)","anchor":"start","fontSize":25,"fontWeight":"normal","font":"Open Sans","color":"#1a1a1a","offset":16},
 "vconcat":[{
  "title":{"text":"¹⁵N Frequency (kHz)","orient":"bottom","anchor":"middle","fontSize":22,"fontWeight":"bold","font":"Open Sans","color":"#1a1a1a","offset":31,"dx":9},
  "data":{"name":"A"},
  "facet":{"field":"p","type":"nominal","sort":["T77","G84","K90","L79","V86","V91","F81","A87","G92","K82","A88","A93"],"header":{"labels":false,"title":null,"labelFontSize":1,"labelPadding":0,"labelColor":"transparent"}},
  "columns":3,
  "spacing":{"row":11.5,"column":35},
  "spec":{"width":236,"height":122,
   "encoding":{"x":{"field":"x","type":"quantitative","scale":{"domain":[-5,5],"reverse":true,"nice":false,"zero":false},"axis":{"values":[4,2,0,-2,-4],"labelExpr":"'' + datum.value"}}},
   "layer":[
    {"mark":{"type":"line","color":"#1a1a1a","strokeWidth":2.2,"interpolate":"monotone","strokeJoin":"round"},"encoding":{"y":{"field":"e","type":"quantitative","scale":{"domain":[-6,104.9],"nice":false,"zero":false},"axis":null}}},
    {"mark":{"type":"line","color":"#ff3dff","strokeWidth":2,"interpolate":"monotone","strokeJoin":"round"},"encoding":{"y":{"field":"f","type":"quantitative","scale":{"domain":[-6,104.9],"nice":false,"zero":false},"axis":null}}},
    {"transform":[{"filter":{"field":"x","equal":5}}],"mark":{"type":"text","align":"left","baseline":"middle","fontSize":20,"font":"Open Sans","color":"#231f20","dx":-1},"encoding":{"y":{"datum":82,"type":"quantitative"},"text":{"field":"p","type":"nominal"}}}
   ]}
 }]
},
{"title":{"text":"B U-¹³C,¹⁵N\u00a0 dynein light chain 8, LC8","anchor":"start","fontSize":25,"fontWeight":"normal","font":"Open Sans","color":"#1a1a1a","offset":35},
 "vconcat":[{
  "title":{"text":"¹⁵N Frequency (kHz)","orient":"bottom","anchor":"middle","fontSize":22,"fontWeight":"bold","font":"Open Sans","color":"#1a1a1a","offset":10,"dx":9},
  "data":{"name":"B"},
  "facet":{"field":"p","type":"nominal","sort":["A11","W54","S64","V22","I57","Y75","C24","V58","L84","I42","G59","L85"],"header":{"labels":false,"title":null,"labelFontSize":1,"labelPadding":0,"labelColor":"transparent"}},
  "columns":3,
  "spacing":{"row":0,"column":35},
  "spec":{"width":236,"height":122,
   "encoding":{"x":{"field":"x","type":"quantitative","scale":{"domain":[-5,5],"reverse":true,"nice":false,"zero":false},"axis":{"values":[4,2,0,-2,-4],"labelExpr":"'' + datum.value"}}},
   "layer":[
    {"mark":{"type":"line","color":"#1a1a1a","strokeWidth":2.2,"interpolate":"monotone","strokeJoin":"round"},"encoding":{"y":{"field":"e","type":"quantitative","scale":{"domain":[-12,100.96],"nice":false,"zero":false},"axis":null}}},
    {"mark":{"type":"line","color":"#ff3dff","strokeWidth":2,"interpolate":"monotone","strokeJoin":"round"},"encoding":{"y":{"field":"f","type":"quantitative","scale":{"domain":[-12,100.96],"nice":false,"zero":false},"axis":null}}},
    {"transform":[{"filter":{"field":"x","equal":5}}],"mark":{"type":"text","align":"left","baseline":"middle","fontSize":20,"font":"Open Sans","color":"#231f20","dx":-1},"encoding":{"y":{"datum":76,"type":"quantitative"},"text":{"field":"p","type":"nominal"}}}
   ]}
 }]
}
]
}
